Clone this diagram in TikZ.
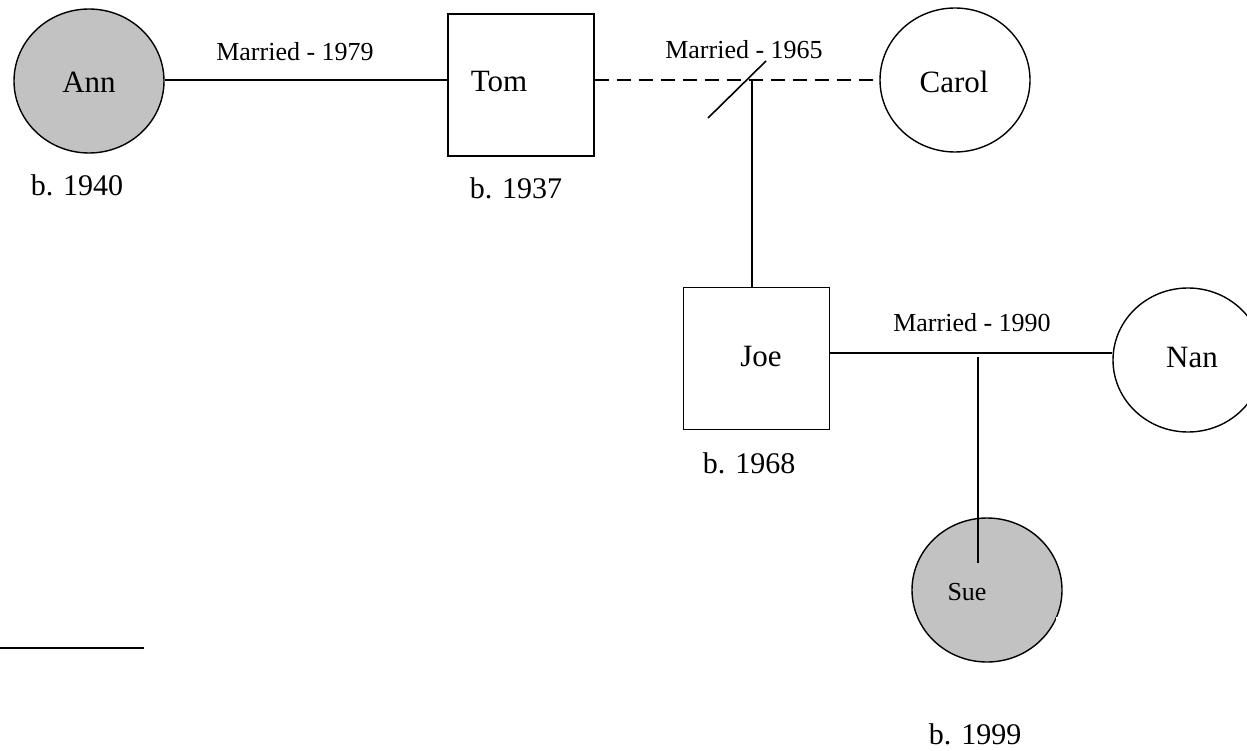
\documentclass[tikz,border=0pt]{standalone}
\usepackage{fontspec}
\setmainfont{Liberation Serif}
\usetikzlibrary{shapes.geometric}
\tikzset{
  person/.style={draw=black, line width=1.4pt, ellipse, minimum width=150pt, minimum height=144pt, inner sep=0pt},
  female/.style={person, fill=black!24},
  male/.style={draw=black, line width=1.6pt, rectangle, minimum width=146pt, minimum height=142pt, inner sep=0pt},
  nametext/.style={inner sep=0pt, font=\fontsize{31}{36}\selectfont},
  smalltext/.style={inner sep=0pt, font=\fontsize{26}{30}\selectfont},
  birthtext/.style={inner sep=0pt, font=\fontsize{30}{34}\selectfont},
  link/.style={line width=1.6pt},
}
\begin{document}
\begin{tikzpicture}[x=1pt,y=-1pt]
\useasboundingbox (0,0) rectangle (1247,751);
\clip (0,0) rectangle (1247,751);
\fill[white] (0,0) rectangle (1247,751);

% shapes
\node[female] (Ann) at (89,81) {};
\node[male] (Tom) at (521,85) {};
\node[person] (Carol) at (955,80) {};
\node[male] (Joe) at (756.5,358.5) {};
\node[person] (Nan) at (1188,360) {};
\node[female] (Sue) at (987,590) {};

% helper coordinates
\coordinate (y1) at (0,80);
\coordinate (y3) at (0,353);
\coordinate (jA) at (752,80);
\coordinate (sA) at (708,118);
\coordinate (sB) at (766,61);
\coordinate (jB) at (978,357);
\coordinate (jBend) at (978,563);
\coordinate (lA) at (0,648);
\coordinate (lB) at (144,648);

% connectors
\draw[link] (Ann.east |- y1) -- (Tom.west |- y1);
\draw[link, dash pattern=on 14pt off 8pt] (Tom.east |- y1) -- (Carol.west |- y1);
\draw[link] (sA) -- (sB);
\draw[link] (jA) -- (jA |- Joe.north);
\draw[link] (Joe.east |- y3) -- (Nan.west |- y3);
\draw[link] (jB) -- (jBend);
\draw[link] (lA) -- (lB);

% white notch on Sue's outline
\fill[white] (1056,617) rectangle (1070,632);

% names
\node[nametext] (tAnn) at (89,82) {Ann};
\node[nametext] (tTom) at (499,82) {Tom};
\node[nametext] (tCarol) at (954,82) {Carol};
\node[nametext] (tJoe) at (761,357) {Joe};
\node[nametext] (tNan) at (1192,358) {Nan};
\node[smalltext] (tSue) at (967,592) {Sue};

% marriage labels
\node[smalltext] (m1) at (295,52) {Married - 1979};
\node[smalltext] (m2) at (744,50) {Married - 1965};
\node[smalltext] (m3) at (972,323) {Married - 1990};

% birth labels
\node[birthtext] (b1) at (77,185) {b. 1940};
\node[birthtext] (b2) at (516,188) {b. 1937};
\node[birthtext] (b3) at (749,463) {b. 1968};
\node[birthtext] (b4) at (975,734) {b. 1999};
\end{tikzpicture}
\end{document}
